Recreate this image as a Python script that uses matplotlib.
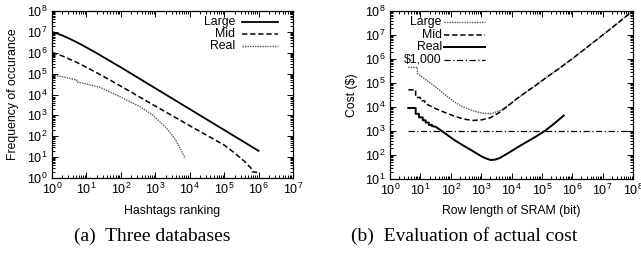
import numpy as np
import matplotlib
matplotlib.use("Agg")
import matplotlib.pyplot as plt
from matplotlib.lines import Line2D
from matplotlib.ticker import LogLocator, LogFormatterMathtext, NullFormatter

plt.rcParams['font.family'] = ['Liberation Sans', 'DejaVu Sans']
plt.rcParams['mathtext.fontset'] = 'custom'
plt.rcParams['mathtext.rm'] = 'Liberation Sans'
plt.rcParams['mathtext.it'] = 'Liberation Sans:italic'
plt.rcParams['mathtext.bf'] = 'Liberation Sans:bold'

# ---------------- (a) Three databases ----------------
rank_large = [1, 1.5, 2, 3, 5, 7, 10, 20, 50, 100, 1e3, 1e4, 1e5, 1e6]
freq_large = [1e7, 8e6, 6.7e6, 5e6, 3.3e6, 2.5e6, 1.8e6, 9.5e5, 3.9e5, 2e5, 2e4, 2e3, 200, 20]

rank_mid = [1, 1.5, 2, 3, 5, 7, 10, 20, 50, 100, 1e3, 1e4, 1e5, 2e5, 4e5, 6e5, 6.5e5, 1e6]
freq_mid = [1.03e6, 8.3e5, 7e5, 5.2e5, 3.6e5, 2.7e5, 2e5, 1.1e5, 4.8e4, 2.5e4, 2.8e3, 320,
            38, 16, 6, 3, 2, 1.8]

rank_real = [1, 2, 3.2, 5.2, 5.2, 10, 25, 95, 360, 870, 2140, 3800, 5250, 7400]
freq_real = [8.5e4, 7.1e4, 6.0e4, 4.9e4, 4.0e4, 3.2e4, 2.2e4, 7.8e3, 2.6e3, 1.0e3, 240, 71, 27, 8.7]

# ---------------- (b) Evaluation of actual cost ----------------
row_large = [4, 8, 8, 16, 32, 64, 128, 256, 512, 1024, 2048, 4096, 8192, 16384,
             32768, 65536, 131072, 262144, 524288, 1048576, 4194304, 16777216,
             67108864, 134217728]
cost_large = [4.5e5, 4.5e5, 2.5e5, 1.3e5, 6.8e4, 3.3e4, 1.66e4, 1.0e4, 7.1e3, 5.6e3,
              5.2e3, 6.9e3, 1.2e4, 2.4e4, 4.5e4, 8.3e4, 1.6e5, 2.95e5, 5.6e5, 1.07e6,
              4.2e6, 1.66e7, 6.8e7, 1.35e8]

row_mid = [4, 7, 7, 10, 10, 14, 14, 20, 32, 64, 128, 256, 512, 1024, 2048, 4096, 8192,
           16384, 32768, 65536, 131072, 262144, 524288, 1048576, 4194304, 16777216,
           67108864, 134217728]
cost_mid = [5.2e4, 5.2e4, 2.5e4, 2.5e4, 1.8e4, 1.8e4, 1.4e4, 1.15e4, 8.5e3, 5.9e3, 4.2e3,
            3.2e3, 2.75e3, 2.9e3, 3.6e3, 6.0e3, 1.2e4, 2.4e4, 4.5e4, 8.3e4, 1.6e5,
            2.95e5, 5.6e5, 1.07e6, 4.2e6, 1.66e7, 6.8e7, 1.35e8]

row_real = [4, 7, 7, 9, 9, 12, 12, 15, 15, 19, 19, 24, 24, 32, 64, 128, 256, 512, 1024,
            1448, 2048, 2896, 4096, 8192, 16384, 32768, 65536, 131072, 262144, 524288]
cost_real = [9.1e3, 9.1e3, 5.2e3, 5.2e3, 3.7e3, 3.7e3, 2.8e3, 2.8e3, 2.25e3, 2.25e3,
             1.8e3, 1.8e3, 1.6e3, 1.5e3, 810, 430, 250, 150, 88, 72, 62, 64, 75, 125,
             215, 360, 600, 1050, 2100, 4400]

budget_x = [4, 1e8]
budget = [1000, 1000]

W, H = 641, 261
fig = plt.figure(figsize=(W / 100, H / 100), dpi=100)

FS = 8.8
TFS = 9.0


def setup(ax, xlim, ylim):
    ax.set_xscale('log')
    ax.set_yscale('log')
    ax.set_xlim(*xlim)
    ax.set_ylim(*ylim)
    for axis in (ax.xaxis, ax.yaxis):
        axis.set_major_locator(LogLocator(base=10, numticks=20))
        axis.set_minor_locator(LogLocator(base=10, subs=np.arange(2, 10), numticks=200))
        axis.set_major_formatter(LogFormatterMathtext())
        axis.set_minor_formatter(NullFormatter())
    ax.tick_params(which='both', direction='in', top=True, right=True,
                   labelsize=TFS, width=0.7, color='black')
    ax.tick_params(which='major', length=4, pad=3)
    ax.tick_params(which='minor', length=2)
    for s in ax.spines.values():
        s.set_linewidth(0.9)


def legend(ax, entries, xt, x0, x1, ys):
    for (lab, kw), y in zip(entries, ys):
        ax.text(xt, y, lab, transform=ax.transAxes, ha='right', va='center', fontsize=FS)
        ax.add_line(Line2D([x0, x1], [y, y], transform=ax.transAxes, **kw))


# left axes
ax1 = fig.add_axes([52 / W, 1 - 178 / H, 241 / W, 167 / H])
setup(ax1, (1, 1e7), (1, 1e8))
sty_l = dict(color='black', lw=1.3, ls='-')
sty_m = dict(color='black', lw=1.1, ls=(0, (3.5, 1.8)))
sty_r = dict(color='#555555', lw=1.0, ls=(0, (1, 0.8)))
ax1.plot(rank_large, freq_large, **sty_l)
ax1.plot(rank_mid, freq_mid, **sty_m)
ax1.plot(rank_real, freq_real, **sty_r)
legend(ax1, [('Large', sty_l), ('Mid', sty_m), ('Real', sty_r)],
       0.759, 0.788, 0.938, [0.934, 0.862, 0.790])

# right axes
ax2 = fig.add_axes([390 / W, 1 - 179 / H, 243 / W, 168 / H])
setup(ax2, (1, 1e8), (10, 1e8))
sty2_l = dict(color='#555555', lw=1.0, ls=(0, (1, 0.8)))
sty2_m = dict(color='black', lw=1.1, ls=(0, (3.5, 1.8)))
sty2_r = dict(color='black', lw=1.4, ls='-')
sty2_b = dict(color='black', lw=0.9, ls=(0, (5, 2, 1, 2)))
ax2.plot(row_large, cost_large, **sty2_l)
ax2.plot(row_mid, cost_mid, **sty2_m)
ax2.plot(row_real, cost_real, **sty2_r)
ax2.plot(budget_x, budget, **sty2_b)
legend(ax2, [('Large', sty2_l), ('Mid', sty2_m), ('Real', sty2_r), ('$1,000', sty2_b)],
       0.213, 0.222, 0.391, [0.933, 0.859, 0.788, 0.709])

# axis labels
fig.text((52 + 293) / 2 / W, 1 - 211 / H, 'Hashtags ranking', ha='center', va='center', fontsize=FS)
fig.text(13 / W, 1 - 94.5 / H, 'Frequency of occurance', ha='center', va='center',
         rotation=90, fontsize=FS)
fig.text((390 + 633) / 2 / W, 1 - 211 / H, 'Row length of SRAM (bit)', ha='center', va='center', fontsize=FS)
fig.text(352 / W, 1 - 95 / H, 'Cost ($)', ha='center', va='center', rotation=90, fontsize=FS)

# captions
cap = dict(ha='center', va='center', fontsize=14, family=['Liberation Serif', 'DejaVu Serif'])
fig.text(152.5 / W, 1 - 236 / H, '(a)  Three databases', **cap)
fig.text(464 / W, 1 - 236 / H, '(b)  Evaluation of actual cost', **cap)

fig.savefig('out.png', dpi=100)
